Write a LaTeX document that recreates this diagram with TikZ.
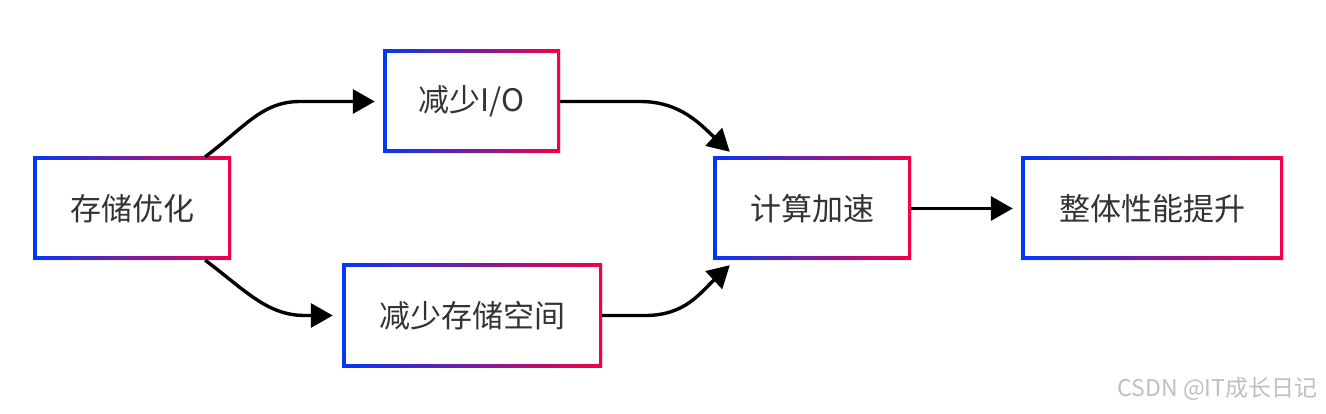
\documentclass[tikz,border=0pt]{standalone}
\usepackage{fontspec}
\setmainfont{Noto Sans CJK SC}
\usetikzlibrary{arrows.meta,positioning,calc,shadows}

\definecolor{gblue}{RGB}{0,56,250}
\definecolor{gred}{RGB}{245,0,70}
\definecolor{textgray}{RGB}{51,51,51}

\tikzset{
  gbox/.style={
    minimum width=#1, minimum height=103pt, inner sep=0pt,
    text=textgray, font=\fontsize{31}{34}\selectfont,
    drop shadow={shadow xshift=1pt, shadow yshift=-1pt, opacity=0.12},
    path picture={
      \shade[left color=gblue, right color=gred]
        (path picture bounding box.south west) rectangle (path picture bounding box.north east);
      \fill[white]
        ([shift={(3.5pt,3.5pt)}]path picture bounding box.south west)
        rectangle ([shift={(-3.5pt,-3.5pt)}]path picture bounding box.north east);
    }
  },
  flow/.style={line width=3.4pt, -{Triangle[length=22pt,width=24pt]}}
}

\begin{document}
\begin{tikzpicture}[x=1pt,y=-1pt]
  \useasboundingbox (0,0) rectangle (1326,414);
  % Boxes
  \node[gbox=198pt] (store) at (132,208.5) {存储优化};
  \node[gbox=177pt] (io)    at (471.5,101.5) {减少I/O};
  \node[gbox=260pt] (space) at (472,315.5) {减少存储空间};
  \node[gbox=198pt] (speed) at (812,208.5) {计算加速};
  \node[gbox=262pt] (perf)  at (1152,208.5) {整体性能提升};
  % Branches out of the storage box
  \draw[flow] ([xshift=-26pt]store.north east)
    .. controls +(40,-30) and +(-38,0) .. (300,101.5) -- ([xshift=-8pt]io.west);
  \draw[flow] ([xshift=-26pt]store.south east)
    .. controls +(40,30) and +(-38,0) .. (305,315.5) -- ([xshift=-9pt]space.west);
  % Branches into the speed box
  \draw[flow] (io.east) -- (640,101.5)
    .. controls +(40,0) and +(-30,-28) .. ([xshift=17pt,yshift=5pt]speed.north west);
  \draw[flow] (space.east) -- (645,315.5)
    .. controls +(40,0) and +(-30,28) .. ([xshift=17pt,yshift=-5pt]speed.south west);
  \draw[flow] (speed.east) -- ([xshift=-8pt]perf.west);
  % Watermark
  \node[text=gray!50, font=\fontsize{23}{25}\selectfont, anchor=east] (mark) at (1321,389) {CSDN @IT成长日记};
\end{tikzpicture}
\end{document}
